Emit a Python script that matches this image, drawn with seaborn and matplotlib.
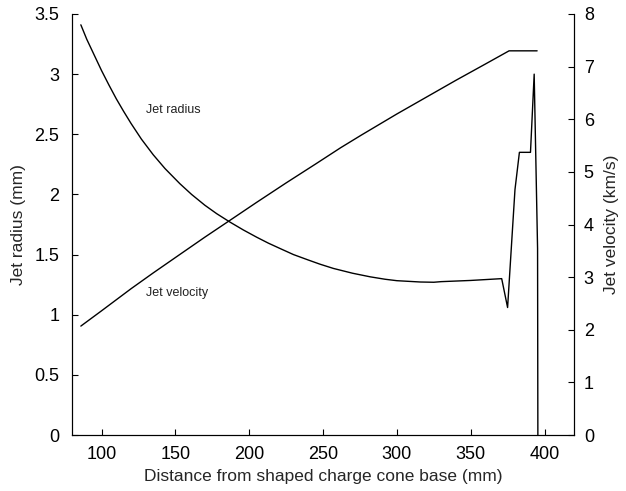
import matplotlib
matplotlib.use("Agg")
import matplotlib.pyplot as plt
import seaborn as sns
import pandas as pd

# Jet radius (left axis, mm) vs distance (mm)
radius_x = [86, 90, 95, 100, 105, 110, 115, 120, 127, 135, 143, 153, 161, 170,
            178, 187, 196, 205, 213, 221, 230, 240, 248, 257, 270, 282, 292, 300,
            316, 325, 330, 350, 371, 375, 378, 380, 383, 390.5, 393, 395.3, 395.5]
radius_y = [3.41, 3.29, 3.16, 3.03, 2.91, 2.795, 2.69, 2.59, 2.46, 2.33, 2.215,
            2.09, 2.00, 1.91, 1.84, 1.77, 1.705, 1.645, 1.595, 1.55, 1.50, 1.455,
            1.42, 1.385, 1.345, 1.315, 1.295, 1.283, 1.272, 1.27, 1.275, 1.285,
            1.30, 1.06, 1.65, 2.04, 2.35, 2.35, 3.0, 1.55, 0.0]

# Jet velocity (right axis, km/s) vs distance (mm)
vel_x = [86, 100, 110, 120, 135, 153, 170, 187, 205, 225, 245, 262, 276, 300,
         320, 340, 360, 376, 395]
vel_y = [2.07, 2.36, 2.57, 2.78, 3.08, 3.43, 3.76, 4.08, 4.42, 4.79, 5.15, 5.46,
         5.70, 6.10, 6.42, 6.74, 7.05, 7.30, 7.30]

x_ticks = [100, 150, 200, 250, 300, 350, 400]
left_ticks = [0, 0.5, 1, 1.5, 2, 2.5, 3, 3.5]
right_ticks = [0, 1, 2, 3, 4, 5, 6, 7, 8]

sns.set_style("white")
plt.rcParams['font.family'] = ['Liberation Sans', 'DejaVu Sans']
plt.rcParams['font.size'] = 12

df_r = pd.DataFrame({"x": radius_x, "y": radius_y})
df_v = pd.DataFrame({"x": vel_x, "y": vel_y})

fig = plt.figure(figsize=(6.26, 4.91), dpi=100)
ax = fig.add_axes([0.115, 0.114, 0.802, 0.8575])
ax2 = ax.twinx()

sns.lineplot(data=df_r, x="x", y="y", ax=ax, color="black", lw=1.0,
             estimator=None, sort=False)
sns.lineplot(data=df_v, x="x", y="y", ax=ax2, color="black", lw=1.0,
             estimator=None, sort=False)

ax.set_xlim(80, 420)
ax.set_ylim(0, 3.5)
ax2.set_ylim(0, 8)
ax.set_xticks(x_ticks)
ax.set_yticks(left_ticks)
ax.set_yticklabels([f"{t:g}" for t in left_ticks])
ax2.set_yticks(right_ticks)

ax.set_xlabel("Distance from shaped charge cone base (mm)", fontsize=12.5, labelpad=4)
ax.set_ylabel("Jet radius (mm)", fontsize=12.5, labelpad=6)
ax2.set_ylabel("Jet velocity (km/s)", fontsize=12.5, labelpad=7)

for a in (ax, ax2):
    a.spines['top'].set_visible(False)
    for s in ('left', 'right', 'bottom'):
        a.spines[s].set_color('black')
        a.spines[s].set_linewidth(0.8)
    a.tick_params(direction='in', length=4, width=0.8, colors='black',
                  labelsize=13, pad=9)
ax.tick_params(axis='y', left=True, right=False)
ax.tick_params(axis='x', bottom=True, top=False, pad=8)
ax2.tick_params(axis='y', right=True, left=False, pad=7)

ax.text(130.3, 2.70, "Jet radius", fontsize=9, va='center', ha='left', color='#222222')
ax.text(130.3, 1.18, "Jet velocity", fontsize=9, va='center', ha='left', color='#222222')

fig.savefig("out.png", dpi=100)
